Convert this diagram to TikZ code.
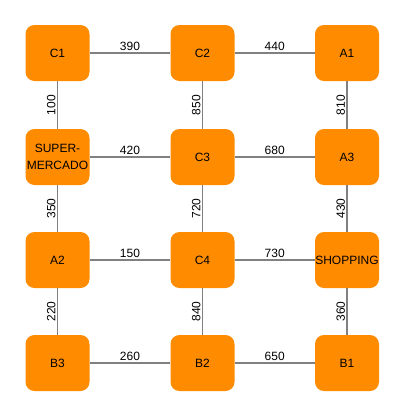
\documentclass[tikz,border=0pt]{standalone}
\usepackage{fontspec}
\setmainfont{Liberation Sans}
\usepackage{tikz}
\usetikzlibrary{positioning}
\definecolor{myorange}{HTML}{FF8C00}
\definecolor{mygray}{HTML}{808080}

\tikzset{
  place/.style={rectangle, fill=myorange, minimum width=64pt, minimum height=56pt,
    rounded corners=9pt, inner sep=0pt, align=center, font=\fontsize{12}{17.5}\selectfont},
  road/.style={draw=mygray, line width=1.1pt},
  dist/.style={font=\fontsize{12}{14}\selectfont, inner sep=1.5pt}
}

\begin{document}
\begin{tikzpicture}[x=1pt,y=-1pt]
  \useasboundingbox (0,0) rectangle (404,416);

  % Row 1
  \node[place] (c1) at (57.5,53) {C1};
  \node[place] (c2) at (202.5,53) {C2};
  \node[place] (a1) at (347,53) {A1};
  % Row 2
  \node[place] (sm) at (57.5,157) {SUPER-\\MERCADO};
  \node[place] (c3) at (202.5,157) {C3};
  \node[place] (a3) at (347,157) {A3};
  % Row 3
  \node[place] (a2) at (57.5,260) {A2};
  \node[place] (c4) at (202.5,260) {C4};
  \node[place] (sh) at (347,260) {SHOPPING};
  % Row 4
  \node[place] (b3) at (57.5,363) {B3};
  \node[place] (b2) at (202.5,363) {B2};
  \node[place] (b1) at (347,363) {B1};

  % Horizontal roads
  \draw[road] (c1) -- (c2) node[dist, midway, above]{390};
  \draw[road] (c2) -- (a1) node[dist, midway, above]{440};
  \draw[road] (sm) -- (c3) node[dist, midway, above]{420};
  \draw[road] (c3) -- (a3) node[dist, midway, above]{680};
  \draw[road] (a2) -- (c4) node[dist, midway, above]{150};
  \draw[road] (c4) -- (sh) node[dist, midway, above]{730};
  \draw[road] (b3) -- (b2) node[dist, midway, above]{260};
  \draw[road] (b2) -- (b1) node[dist, midway, above]{650};

  % Vertical roads
  \draw[road] (sm) -- (c1) node[dist, midway, sloped, above]{100};
  \draw[road] (c3) -- (c2) node[dist, midway, sloped, above]{850};
  \draw[road] (a3) -- (a1) node[dist, midway, sloped, above]{810};
  \draw[road] (a2) -- (sm) node[dist, midway, sloped, above]{350};
  \draw[road] (c4) -- (c3) node[dist, midway, sloped, above]{720};
  \draw[road] (sh) -- (a3) node[dist, midway, sloped, above]{430};
  \draw[road] (b3) -- (a2) node[dist, midway, sloped, above]{220};
  \draw[road] (b2) -- (c4) node[dist, midway, sloped, above]{840};
  \draw[road] (b1) -- (sh) node[dist, midway, sloped, above]{360};
\end{tikzpicture}
\end{document}
